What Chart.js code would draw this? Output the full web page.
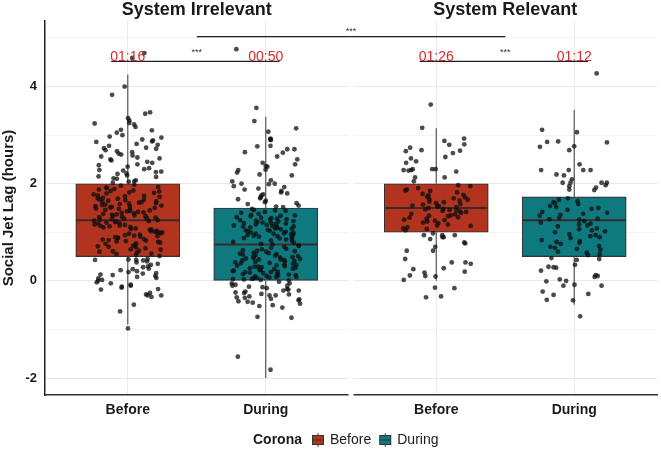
<!DOCTYPE html>
<html>
<head>
<meta charset="utf-8">
<script src="https://cdn.jsdelivr.net/npm/chart.js@4.4.1/dist/chart.umd.min.js"></script>
<style>
  html, body { margin: 0; padding: 0; background: #fff; }
</style>
</head>
<body>
<canvas id="chart" width="661" height="449"></canvas>
<script>
// facets and x categories (one entry per box)
const facets = ['System Irrelevant', 'System Relevant'];
const categories = ['Before', 'During', 'Before', 'During'];
const groups = ['Before', 'During'];

// box statistics (hours)
const q1 = [0.5, 0.0, 1.0, 0.5];
const median = [1.25, 0.75, 1.5, 1.25];
const q3 = [2.0, 1.5, 2.0, 1.73];
const whiskerLow = [-0.9, -2.0, 0.0, -0.49];
const whiskerHigh = [4.25, 3.38, 3.14, 3.52];

// mean labels and significance marks
const meanLabels = ['01:16', '00:50', '01:26', '01:12'];
const sigLabel = '***';

// jittered observations, one list per box
const irrBefore = [
  4.69, 4.59, 4.0, 3.83, 3.47, 3.44, 3.35, 3.3, 3.25, 3.24, 3.22, 3.17, 3.11, 3.1, 3.05, 3.0, 2.97, 2.95,
  2.91, 2.89, 2.87, 2.86, 2.82, 2.8, 2.78, 2.74, 2.73, 2.72, 2.69, 2.67, 2.65, 2.62, 2.6, 2.58, 2.56, 2.54,
  2.52, 2.5, 2.48, 2.45, 2.43, 2.4, 2.38, 2.35, 2.32, 2.3, 2.28, 2.27, 2.25, 2.24, 2.21, 2.2, 2.17, 2.15,
  2.14, 2.11, 2.1, 2.07, 2.05, 2.04, 2.02,
  1.93, 1.84, 1.71, 1.62, 1.88, 1.55, 1.47, 1.96, 1.35, 1.28, 1.66, 1.78, 1.41, 1.22, 1.12, 1.05, 0.98,
  1.52, 1.31, 1.44, 1.19, 0.91, 0.83, 0.77, 1.08, 1.63, 1.74, 1.86, 1.57, 1.36, 1.25, 0.69, 0.62, 0.56,
  0.88, 1.02, 1.15, 1.27, 1.39, 1.49, 1.69, 1.81, 1.91, 1.6, 1.42, 1.33, 1.18, 0.95, 0.8, 0.72, 0.65,
  0.58, 0.53, 1.73, 1.64, 1.54, 1.45, 1.3, 1.21, 1.1, 1.0, 0.93, 0.86, 0.74, 0.67, 1.98, 1.89, 1.8, 1.68,
  1.58, 1.5, 1.4, 1.34, 1.24, 1.16, 1.07, 0.97, 0.89, 0.81, 0.71, 0.6, 0.51, 1.76, 1.65, 1.53, 1.43, 1.37,
  1.26, 1.14, 1.03, 0.94, 0.84, 0.76, 0.64, 0.55, 1.92, 1.82, 1.7, 1.59, 1.48, 1.38, 1.29, 1.2, 1.11, 1.01,
  0.92, 0.85, 0.79, 1.67, 1.56, 1.46, 1.32, 1.23, 1.13, 1.06, 0.99, 0.9, 0.82, 0.7, 0.61, 1.85, 1.75, 1.61,
  1.51,
  0.45, 0.44, 0.43, 0.42, 0.43, 0.4, 0.38, 0.35, 0.33, 0.3, 0.28, 0.25, 0.24, 0.22, 0.2, 0.18, 0.16, 0.15,
  0.13, 0.12, 0.1, 0.08, 0.06, 0.05, 0.02, 0.0, -0.03, -0.05, -0.08, -0.1, -0.12, -0.14, -0.17, -0.18,
  -0.25, -0.28, -0.3, -0.3, -0.33, -0.49, -0.63, -0.98
];
const irrDuring = [
  4.77, 3.56, 3.29, 3.14, 3.07, 2.93, 2.91, 2.9, 2.78, 2.77, 2.71, 2.71, 2.65, 2.64, 2.56, 2.5, 2.43, 2.4,
  2.36, 2.35, 2.29, 2.28, 2.23, 2.19, 2.17, 2.07, 2.0, 1.99, 1.93, 2.05, 2.0, 1.95, 1.9, 1.88, 1.85, 1.82,
  1.8, 1.78, 1.76, 1.72, 1.7, 1.68, 1.65, 1.62, 1.6, 1.58, 1.55, 1.53, 1.52,
  1.45, 1.38, 1.3, 1.25, 1.21, 1.17, 1.12, 1.08, 1.04, 0.99, 0.95, 0.9, 1.42, 1.33, 1.27, 1.22, 1.15, 1.1,
  1.06, 1.01, 0.97, 0.92, 0.85, 0.78, 1.48, 1.35, 1.28, 1.19, 1.13, 1.07, 1.02, 0.96, 0.88, 0.8, 0.72,
  0.66, 0.6, 0.55, 0.51, 0.47, 0.43, 0.4, 0.36, 0.32, 0.28, 0.24, 0.2, 0.16, 0.12, 0.08, 0.04, 0.58, 0.53,
  0.49, 0.45, 0.41, 0.37, 0.33, 0.29, 0.25, 0.21, 0.17, 0.13, 0.09, 0.05, 0.02, 1.4, 1.31, 1.24, 1.18,
  1.11, 1.05, 0.98, 0.93, 0.83, 0.75, 0.68, 0.62, 0.56, 0.5, 0.44, 0.38, 0.31, 0.26, 0.19, 0.14, 0.1,
  0.06, 0.03, 1.44, 1.36, 1.26, 1.2, 1.14, 1.09, 1.03, 0.94, 0.87, 0.7, 0.63, 0.57, 0.52, 0.46, 0.39, 0.34,
  0.27, 0.22, 0.15, 0.11, 0.07, 1.34, 1.23, 1.16, 1.0, 0.91, 0.82, 0.76, 0.65, 0.54, 0.48, 0.42, 0.35,
  0.3, 0.23, 0.18, 0.01, 1.46, 1.29, 1.19, 1.12, 0.97, 0.86, 0.73, 0.61, 0.44, 0.29, 0.18, 0.08, 0.04,
  -0.02, -0.05, -0.05, -0.08, -0.1, -0.1, -0.12, -0.13, -0.15, -0.17, -0.18, -0.2, -0.2, -0.22, -0.24,
  -0.25, -0.27, -0.28, -0.3, -0.3, -0.32, -0.34, -0.35, -0.37, -0.38, -0.4, -0.42, -0.43, -0.45, -0.47,
  -0.5, -0.52, -0.55, -0.74, -0.76, -1.56, -1.83
];
const relBefore = [
  3.63, 3.15, 2.93, 2.88, 2.81, 2.8, 2.74, 2.68, 2.67, 2.69, 2.63, 2.55, 2.52, 2.43, 2.46, 2.3, 2.3, 2.3,
  2.28, 2.28, 2.13, 2.25, 2.13, 2.05, 2.27,
  1.95, 1.88, 1.82, 1.76, 1.7, 1.65, 1.6, 1.55, 1.5, 1.46, 1.42, 1.38, 1.33, 1.28, 1.22, 1.16, 1.1, 1.04,
  1.91, 1.85, 1.79, 1.73, 1.68, 1.62, 1.57, 1.53, 1.48, 1.44, 1.4, 1.35, 1.3, 1.25, 1.19, 1.13, 1.07,
  1.86, 1.77, 1.67, 1.58, 1.52, 1.47, 1.43, 1.37, 1.31, 1.26, 1.2, 1.14, 1.97, 1.72, 1.63, 1.54, 1.45,
  1.34, 1.24, 1.08,
  0.98, 0.94, 0.9, 0.94, 0.94, 0.77, 0.7, 0.62, 0.62, 0.79, 0.86, 0.9, 0.38, 0.45, 0.38, 0.35, 0.26, 0.11,
  0.09, 0.02, 0.17, 0.24, 0.19, 0.1, -0.15, -0.14, -0.32, -0.34
];
const relDuring = [
  4.27, 3.06, 3.11, 2.86, 2.87, 2.85, 2.69, 2.76, 2.77, 2.4, 2.28, 2.28, 2.28, 2.28, 2.17, 2.19, 2.09,
  2.02, 2.02, 1.92, 1.88, 1.97, 1.95, 1.87, 2.02, 2.02,
  1.7, 1.64, 1.58, 1.52, 1.46, 1.4, 1.34, 1.28, 1.23, 1.18, 1.12, 1.06, 1.0, 0.94, 0.88, 0.82, 0.76, 0.7,
  0.64, 0.58, 0.53, 1.67, 1.6, 1.54, 1.48, 1.42, 1.36, 1.3, 1.26, 1.2, 1.14, 1.08, 1.02, 0.96, 0.9, 0.84,
  0.78, 0.72, 0.66, 0.6, 0.55, 1.62, 1.5, 1.38, 1.27, 1.16, 1.04, 0.92, 0.8, 0.68,
  0.28, 0.43, 0.47, 0.45, 0.21, 0.27, 0.33, 0.29, 0.12, 0.1, 0.03, 0.08, 0.0, -0.1, -0.08, -0.1, -0.01,
  -0.29, -0.22, -0.27, -0.4, -0.39, -0.73
];
const observations = [irrBefore, irrDuring, relBefore, relDuring];

// layout on a shared linear x axis: two facets of 2.2 units each plus a small gap
const facetGap = 0.036;
const pos = [1, 2, 3.2 + facetGap, 4.2 + facetGap];
const boxHalf = 0.375;
const colors = ['#b2341f', '#0e7a80', '#b2341f', '#0e7a80'];
const groupColors = ['#b2341f', '#0e7a80'];

// annotation heights in data units
const bracketY = 4.52;
const bracketStarY = 4.7;
const longY = 5.03;
const longStarY = 5.13;

Chart.defaults.font.family = '"Liberation Sans", Arial, sans-serif';

// horizontal jitter offset: a fixed hash of the point's index and box,
// so the spread is the same on every load (layout only, not data)
function jitter(g, i) {
  const h = Math.sin((i + 1) * 12.9898 + (g + 1) * 78.233) * 43758.5453;
  return ((h - Math.floor(h)) - 0.5) * 0.5;
}

const pointData = [];
observations.forEach((vals, g) => {
  vals.forEach((v, i) => pointData.push({ x: pos[g] + jitter(g, i), y: v }));
});

const whiskerData = [];
const medianData = [];
pos.forEach((p, i) => {
  whiskerData.push({ x: p, y: q3[i] }, { x: p, y: whiskerHigh[i] }, { x: p, y: null });
  whiskerData.push({ x: p, y: whiskerLow[i] }, { x: p, y: q1[i] }, { x: p, y: null });
  medianData.push({ x: p - boxHalf, y: median[i] }, { x: p + boxHalf, y: median[i] }, { x: p, y: null });
});

const bracketData = [
  { x: 0.88, y: bracketY }, { x: 2.1, y: bracketY }, { x: 2, y: null },
  { x: pos[2] - 0.12, y: bracketY }, { x: pos[3] + 0.1, y: bracketY }, { x: 4, y: null },
  { x: 1.5, y: longY }, { x: pos[2] + 0.5, y: longY }
];

const facetPlugin = {
  id: 'facets',
  beforeDatasetsDraw(chart) {
    const { ctx, chartArea, scales } = chart;
    const x0 = scales.x.getPixelForValue(2.6);
    const x1 = scales.x.getPixelForValue(2.6 + facetGap);
    ctx.save();
    ctx.fillStyle = '#fff';
    ctx.fillRect(x0, chartArea.top - 2, x1 - x0, chartArea.bottom - chartArea.top + 4);
    ctx.restore();
  },
  afterDraw(chart) {
    const { ctx, chartArea, scales } = chart;
    const xs = scales.x, ys = scales.y;
    ctx.save();
    ctx.textAlign = 'center';

    // facet strip titles
    ctx.fillStyle = '#1a1a1a';
    ctx.font = 'bold 18px "Liberation Sans", Arial, sans-serif';
    ctx.textBaseline = 'middle';
    ctx.fillText(facets[0], xs.getPixelForValue(1.5), chartArea.top - 11);
    ctx.fillText(facets[1], xs.getPixelForValue(pos[2] + 0.5), chartArea.top - 11);

    // mean labels
    ctx.fillStyle = '#e0262a';
    ctx.font = '14px "Liberation Sans", Arial, sans-serif';
    ctx.textBaseline = 'alphabetic';
    pos.forEach((p, i) => {
      ctx.fillText(meanLabels[i], xs.getPixelForValue(p), ys.getPixelForValue(bracketY) - 0.5);
    });

    // significance stars
    ctx.fillStyle = '#333';
    ctx.font = '9px "Liberation Sans", Arial, sans-serif';
    ctx.textBaseline = 'middle';
    ctx.fillText(sigLabel, xs.getPixelForValue(1.5), ys.getPixelForValue(bracketStarY));
    ctx.fillText(sigLabel, xs.getPixelForValue(pos[2] + 0.5), ys.getPixelForValue(bracketStarY));
    ctx.fillText(sigLabel, xs.getPixelForValue((1.5 + pos[2] + 0.5) / 2), ys.getPixelForValue(longStarY));

    // legend
    const ly = 440;
    let lx = 253;
    ctx.textAlign = 'left';
    ctx.fillStyle = '#1a1a1a';
    ctx.font = 'bold 14px "Liberation Sans", Arial, sans-serif';
    ctx.fillText('Corona', lx, ly);
    lx += ctx.measureText('Corona').width + 10;
    ctx.font = '14px "Liberation Sans", Arial, sans-serif';
    groups.forEach((name, i) => {
      const cx = lx + 6;
      ctx.strokeStyle = '#444';
      ctx.lineWidth = 1;
      ctx.beginPath();
      ctx.moveTo(cx, ly - 7);
      ctx.lineTo(cx, ly + 7);
      ctx.stroke();
      ctx.fillStyle = groupColors[i];
      ctx.fillRect(cx - 5.5, ly - 4.5, 11, 9);
      ctx.strokeStyle = '#333';
      ctx.strokeRect(cx - 5.5, ly - 4.5, 11, 9);
      ctx.beginPath();
      ctx.moveTo(cx - 5.5, ly);
      ctx.lineTo(cx + 5.5, ly);
      ctx.stroke();
      lx += 18;
      ctx.fillStyle = '#1a1a1a';
      ctx.fillText(name, lx, ly);
      lx += ctx.measureText(name).width + 8;
    });
    ctx.restore();
  }
};

new Chart(document.getElementById('chart'), {
  type: 'bar',
  data: {
    datasets: [
      {
        type: 'line',
        data: bracketData,
        borderColor: '#222',
        borderWidth: 1.2,
        pointRadius: 0,
        spanGaps: false,
        order: 0
      },
      {
        type: 'scatter',
        data: pointData,
        backgroundColor: 'rgba(15,15,15,0.75)',
        borderWidth: 0,
        pointRadius: 2.4,
        order: 1
      },
      {
        type: 'line',
        data: medianData,
        borderColor: '#3a2a2a',
        borderWidth: 2,
        pointRadius: 0,
        spanGaps: false,
        order: 2
      },
      {
        type: 'bar',
        data: pos.map((p, i) => ({ x: p, y: [q1[i], q3[i]] })),
        backgroundColor: colors,
        borderColor: '#333',
        borderWidth: 1.2,
        borderSkipped: false,
        barThickness: 104,
        order: 3
      },
      {
        type: 'line',
        data: whiskerData,
        borderColor: '#555',
        borderWidth: 1.2,
        pointRadius: 0,
        spanGaps: false,
        order: 4
      }
    ]
  },
  options: {
    responsive: false,
    animation: false,
    layout: { padding: { top: 21, bottom: 24, left: 0, right: 0 } },
    plugins: {
      legend: { display: false },
      tooltip: { enabled: false }
    },
    scales: {
      x: {
        type: 'linear',
        min: 0.4,
        max: 4.8 + facetGap,
        offset: false,
        afterBuildTicks: s => { s.ticks = pos.map(v => ({ value: v })); },
        afterFit: s => { s.height = 30; },
        grid: { color: '#ebebeb', offset: false, drawTicks: false },
        border: { color: '#333', width: 1.5 },
        ticks: {
          autoSkip: false,
          maxRotation: 0,
          padding: 7,
          color: '#1a1a1a',
          font: { size: 14, weight: 'bold' },
          callback: (v, i) => categories[i]
        }
      },
      y: {
        min: -2.35,
        max: 5.35,
        afterBuildTicks: s => { s.ticks = [-2, -1, 0, 1, 2, 3, 4, 5].map(v => ({ value: v })); },
        afterFit: s => { s.width = 45; },
        grid: {
          color: ctx => (ctx.tick && ctx.tick.value % 2 === 0) ? '#e8e8e8' : '#f3f3f3',
          drawTicks: false
        },
        border: { color: '#222', width: 1.5 },
        ticks: {
          padding: 8,
          color: '#1a1a1a',
          font: { size: 13, weight: 'bold' },
          callback: v => (v % 2 === 0 ? v : '')
        },
        title: {
          display: true,
          text: 'Social Jet Lag (hours)',
          color: '#1a1a1a',
          font: { size: 15, weight: 'bold' },
          padding: { top: 0, bottom: 1 }
        }
      }
    }
  },
  plugins: [facetPlugin]
});
</script>
</body>
</html>
